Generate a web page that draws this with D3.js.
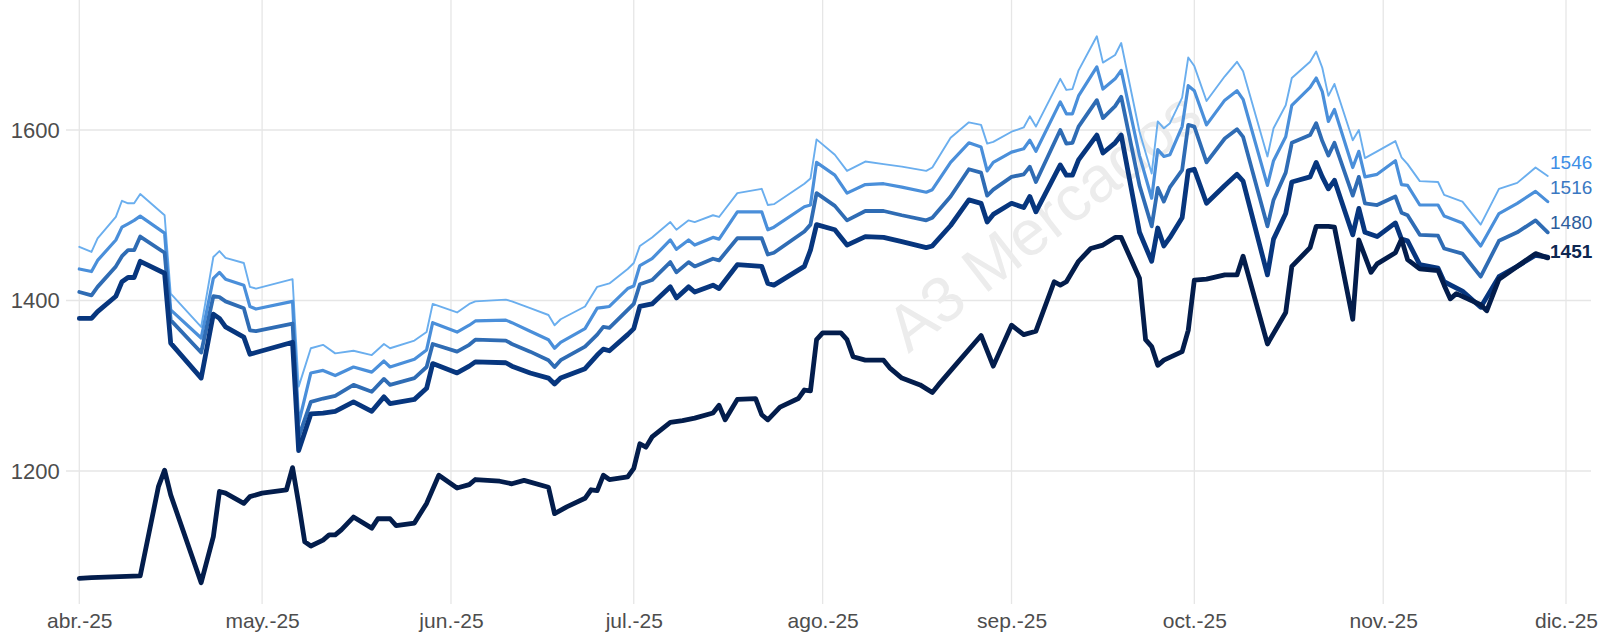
<!DOCTYPE html>
<html>
<head>
<meta charset="utf-8">
<script src="https://cdn.jsdelivr.net/npm/d3@7"></script>
<style>
  body { margin: 0; background: #fff; }
  svg { display: block; font-family: "Liberation Sans", Arial, sans-serif; }
</style>
</head>
<body>
<svg id="chart" width="1603" height="637"></svg>
<script>
// fechas de los cuatro contratos (lineas paralelas)
var fechas = ["2025-04-01","2025-04-03","2025-04-04","2025-04-07","2025-04-08","2025-04-09","2025-04-10","2025-04-11",
  "2025-04-15","2025-04-16","2025-04-21","2025-04-23","2025-04-24","2025-04-25","2025-04-28","2025-04-29","2025-04-30",
  "2025-05-06","2025-05-07","2025-05-09","2025-05-11","2025-05-13","2025-05-16","2025-05-19","2025-05-21","2025-05-22",
  "2025-05-26","2025-05-28","2025-05-29","2025-06-02","2025-06-04","2025-06-05","2025-06-10","2025-06-11","2025-06-14",
  "2025-06-17","2025-06-18","2025-06-19","2025-06-23","2025-06-25","2025-06-26","2025-06-27","2025-06-30","2025-07-01",
  "2025-07-02","2025-07-04","2025-07-07","2025-07-08","2025-07-10","2025-07-11","2025-07-14","2025-07-15","2025-07-18",
  "2025-07-22","2025-07-23","2025-07-24","2025-07-29","2025-07-30","2025-07-31","2025-08-03","2025-08-05","2025-08-08",
  "2025-08-11","2025-08-14","2025-08-18","2025-08-19","2025-08-22","2025-08-25","2025-08-27","2025-08-28","2025-08-29",
  "2025-09-01","2025-09-03","2025-09-04","2025-09-05","2025-09-09","2025-09-10","2025-09-11","2025-09-12","2025-09-15",
  "2025-09-16","2025-09-18","2025-09-19","2025-09-22","2025-09-24","2025-09-25","2025-09-26","2025-09-27","2025-09-29",
  "2025-09-30","2025-10-01","2025-10-03","2025-10-06","2025-10-08","2025-10-09","2025-10-13","2025-10-14","2025-10-16",
  "2025-10-17","2025-10-20","2025-10-21","2025-10-22","2025-10-23","2025-10-24","2025-10-27","2025-10-28","2025-10-29",
  "2025-10-31","2025-11-03","2025-11-04","2025-11-05","2025-11-07","2025-11-10","2025-11-11","2025-11-14","2025-11-17",
  "2025-11-20","2025-11-23","2025-11-26","2025-11-28"];

var serieOscura = [1379,1379,1387,1405,1422,1427,1427,1446,1432,1350,1309,1384,1379,1369,1357,1337,1339,
  1351,1224,1267,1268,1270,1281,1270,1287,1279,1284,1297,1326,1315,1323,1328,1327,1323,1315,
  1309,1302,1309,1320,1336,1343,1341,1360,1367,1393,1396,1416,1403,1416,1410,1418,1414,1442,
  1440,1420,1418,1440,1459,1489,1483,1465,1475,1474,1469,1462,1464,1488,1518,1514,1492,1501,
  1514,1509,1522,1504,1559,1547,1547,1565,1594,1573,1585,1594,1480,1446,1485,1464,1474,1497,
  1552,1554,1514,1535,1548,1540,1430,1472,1502,1539,1545,1562,1545,1531,1541,1477,1508,1480,
  1475,1491,1472,1470,1442,1438,1422,1411,1392,1428,1440,1453,1451];

var serieMedia = [1410,1406,1416,1440,1452,1459,1459,1475,1456,1377,1339,1405,1404,1399,1391,1365,1364,
  1373,1240,1281,1285,1288,1301,1293,1308,1301,1309,1322,1349,1340,1348,1354,1353,1349,1340,
  1330,1322,1330,1346,1360,1369,1368,1389,1396,1419,1424,1445,1433,1445,1440,1449,1447,1473,
  1473,1454,1456,1481,1489,1526,1511,1494,1505,1505,1500,1494,1497,1522,1554,1550,1523,1530,
  1545,1548,1557,1539,1600,1584,1585,1604,1635,1614,1628,1639,1535,1487,1532,1516,1533,1553,
  1606,1604,1562,1590,1601,1592,1487,1518,1550,1585,1594,1608,1587,1570,1585,1523,1545,1514,
  1512,1522,1503,1500,1477,1476,1461,1455,1428,1470,1480,1494,1480];

var serieMediaClara = [1437,1434,1447,1471,1486,1490,1494,1499,1479,1389,1356,1426,1433,1425,1418,1393,1390,
  1399,1256,1315,1318,1312,1322,1316,1329,1322,1331,1342,1374,1363,1371,1376,1377,1374,1364,
  1354,1344,1351,1367,1391,1392,1393,1414,1417,1441,1449,1471,1460,1471,1465,1474,1472,1504,
  1504,1483,1486,1510,1512,1562,1547,1526,1536,1537,1533,1527,1530,1562,1585,1580,1552,1562,
  1574,1578,1588,1575,1633,1619,1619,1640,1674,1648,1660,1670,1570,1520,1577,1569,1571,1604,
  1652,1646,1606,1635,1646,1636,1535,1564,1592,1629,1650,1661,1645,1610,1624,1556,1575,1545,
  1548,1564,1536,1535,1512,1512,1499,1491,1464,1502,1514,1528,1516];

var serieClara = [1463,1457,1473,1498,1517,1514,1514,1525,1500,1408,1369,1451,1458,1450,1444,1416,1414,
  1425,1299,1344,1348,1338,1341,1336,1349,1344,1353,1363,1396,1386,1396,1399,1401,1399,1391,
  1383,1371,1378,1393,1416,1418,1420,1437,1444,1464,1474,1492,1483,1494,1492,1500,1498,1526,
  1531,1512,1513,1537,1543,1589,1571,1552,1563,1560,1557,1552,1556,1591,1609,1606,1584,1586,
  1598,1603,1616,1604,1660,1647,1648,1670,1710,1679,1688,1702,1598,1549,1610,1602,1608,1638,
  1685,1675,1634,1663,1680,1669,1569,1602,1629,1661,1680,1692,1673,1640,1654,1588,1600,1567,
  1575,1587,1568,1560,1540,1539,1524,1516,1489,1531,1538,1556,1546];

// serie inferior (navy)
var fechasSpot = ["2025-04-01","2025-04-03","2025-04-11","2025-04-14","2025-04-15","2025-04-16","2025-04-21","2025-04-23",
  "2025-04-24","2025-04-25","2025-04-28","2025-04-29","2025-05-01","2025-05-05","2025-05-06","2025-05-07","2025-05-08",
  "2025-05-09","2025-05-11","2025-05-12","2025-05-13","2025-05-14","2025-05-16","2025-05-19","2025-05-20","2025-05-22",
  "2025-05-23","2025-05-26","2025-05-28","2025-05-30","2025-06-02","2025-06-04","2025-06-05","2025-06-09","2025-06-11",
  "2025-06-13","2025-06-17","2025-06-18","2025-06-20","2025-06-23","2025-06-24","2025-06-25","2025-06-26","2025-06-27",
  "2025-06-30","2025-07-01","2025-07-02","2025-07-03","2025-07-04","2025-07-07","2025-07-09","2025-07-11","2025-07-14",
  "2025-07-15","2025-07-16","2025-07-18","2025-07-21","2025-07-22","2025-07-23","2025-07-25","2025-07-28","2025-07-29",
  "2025-07-30","2025-07-31","2025-08-01","2025-08-04","2025-08-05","2025-08-06","2025-08-08","2025-08-11","2025-08-12",
  "2025-08-14","2025-08-17","2025-08-19","2025-08-20","2025-08-23","2025-08-27","2025-08-29","2025-09-01","2025-09-03",
  "2025-09-05","2025-09-08","2025-09-09","2025-09-10","2025-09-12","2025-09-14","2025-09-16","2025-09-18","2025-09-19",
  "2025-09-22","2025-09-23","2025-09-24","2025-09-25","2025-09-26","2025-09-29","2025-09-30","2025-10-01","2025-10-03",
  "2025-10-06","2025-10-08","2025-10-09","2025-10-13","2025-10-16","2025-10-17","2025-10-20","2025-10-21","2025-10-23",
  "2025-10-24","2025-10-27","2025-10-28","2025-10-30","2025-10-31","2025-11-03","2025-11-04","2025-11-05","2025-11-07",
  "2025-11-10","2025-11-11","2025-11-12","2025-11-13","2025-11-17","2025-11-18","2025-11-20","2025-11-26","2025-11-28"];

var serieSpot = [1074,1075,1077,1182,1201,1172,1069,1123,1176,1174,1162,1170,1174,1178,1204,1162,1117,
  1112,1119,1125,1125,1131,1146,1133,1144,1144,1136,1139,1162,1195,1180,1184,1190,1188,1185,
  1189,1181,1150,1158,1168,1178,1177,1195,1190,1193,1203,1232,1228,1240,1257,1259,1262,1268,
  1277,1260,1284,1285,1266,1260,1275,1285,1295,1294,1354,1362,1362,1354,1334,1330,1330,1321,
  1309,1301,1292,1301,1326,1359,1323,1371,1360,1364,1422,1418,1422,1446,1461,1465,1474,1474,
  1426,1354,1346,1324,1330,1340,1365,1424,1425,1430,1430,1452,1349,1386,1440,1462,1487,1487,
  1486,1378,1471,1433,1443,1456,1472,1448,1437,1435,1418,1402,1408,1395,1388,1425,1455,1450];

var etiquetasMes = ["abr.-25","may.-25","jun.-25","jul.-25","ago.-25","sep.-25","oct.-25","nov.-25","dic.-25"];
var ticksY = [1200, 1400, 1600];
var ultimos = [1546, 1516, 1480, 1451];

var parse = d3.utcParse("%Y-%m-%d");
var svg = d3.select("#chart");

var x = d3.scaleUtc()
    .domain([parse("2025-04-01"), parse("2025-12-01")])
    .range([79.3, 1566]);
var y = d3.scaleLinear()
    .domain([1200, 1600])
    .range([471, 130]);

// grid
var meses = d3.utcMonth.range(parse("2025-04-01"), parse("2025-12-02"));
svg.append("g").selectAll("line").data(meses).enter().append("line")
    .attr("x1", function(d){ return x(d); }).attr("x2", function(d){ return x(d); })
    .attr("y1", 0).attr("y2", 604)
    .attr("stroke", "#e6e6e6").attr("stroke-width", 1.3);
svg.append("g").selectAll("line").data(ticksY).enter().append("line")
    .attr("x1", 66).attr("x2", 1591)
    .attr("y1", function(d){ return y(d); }).attr("y2", function(d){ return y(d); })
    .attr("stroke", "#e6e6e6").attr("stroke-width", 1.3);

// watermark
svg.append("text")
    .attr("transform", "translate(1057,238) rotate(-38)")
    .attr("text-anchor", "middle")
    .attr("font-size", 64)
    .attr("fill", "#ececec")
    .text("A3 Mercados");

// axes
var xAxis = d3.axisBottom(x).tickValues(meses).tickSize(0)
    .tickFormat(function(d, i){ return etiquetasMes[i]; });
var gx = svg.append("g").attr("transform", "translate(0,604)").call(xAxis);
gx.select(".domain").remove();
gx.selectAll("text").attr("font-size", 21).attr("fill", "#4d4d4d")
    .attr("font-family", "Liberation Sans, Arial, sans-serif").attr("dy", "1em");

var yAxis = d3.axisLeft(y).tickValues(ticksY).tickSize(0).tickFormat(d3.format("d"));
var gy = svg.append("g").attr("transform", "translate(66,0)").call(yAxis);
gy.select(".domain").remove();
gy.selectAll("text").attr("font-size", 22).attr("fill", "#4d4d4d")
    .attr("font-family", "Liberation Sans, Arial, sans-serif").attr("dx", "-0.15em");

// lines
var series = [
  {vals: serieClara, dates: fechas, color: "#6aaeee", w: 1.9},
  {vals: serieMediaClara, dates: fechas, color: "#4a8fda", w: 3.2},
  {vals: serieMedia, dates: fechas, color: "#2f6cb4", w: 3.8},
  {vals: serieOscura, dates: fechas, color: "#07367e", w: 4.8},
  {vals: serieSpot, dates: fechasSpot, color: "#031d4c", w: 4.8}
];

var line = d3.line()
    .x(function(d){ return x(d[0]); })
    .y(function(d){ return y(d[1]); });

series.forEach(function(s){
  var pts = s.dates.map(function(f, i){ return [parse(f), s.vals[i]]; });
  svg.append("path")
      .datum(pts)
      .attr("d", line)
      .attr("fill", "none")
      .attr("stroke", s.color)
      .attr("stroke-width", s.w)
      .attr("stroke-linejoin", "round")
      .attr("stroke-linecap", "round");
});

// end labels
var colLab = ["#3d8ee6", "#3a78c2", "#2b5c9c", "#0d2650"];
var yLab = [162, 187, 222, 251];
svg.append("g").selectAll("text").data(ultimos).enter().append("text")
    .attr("x", 1550)
    .attr("y", function(d, i){ return yLab[i]; })
    .attr("dy", "0.35em")
    .attr("font-size", 19)
    .attr("font-weight", function(d, i){ return i == 3 ? "bold" : "normal"; })
    .attr("fill", function(d, i){ return colLab[i]; })
    .text(function(d){ return d; });
</script>
</body>
</html>
